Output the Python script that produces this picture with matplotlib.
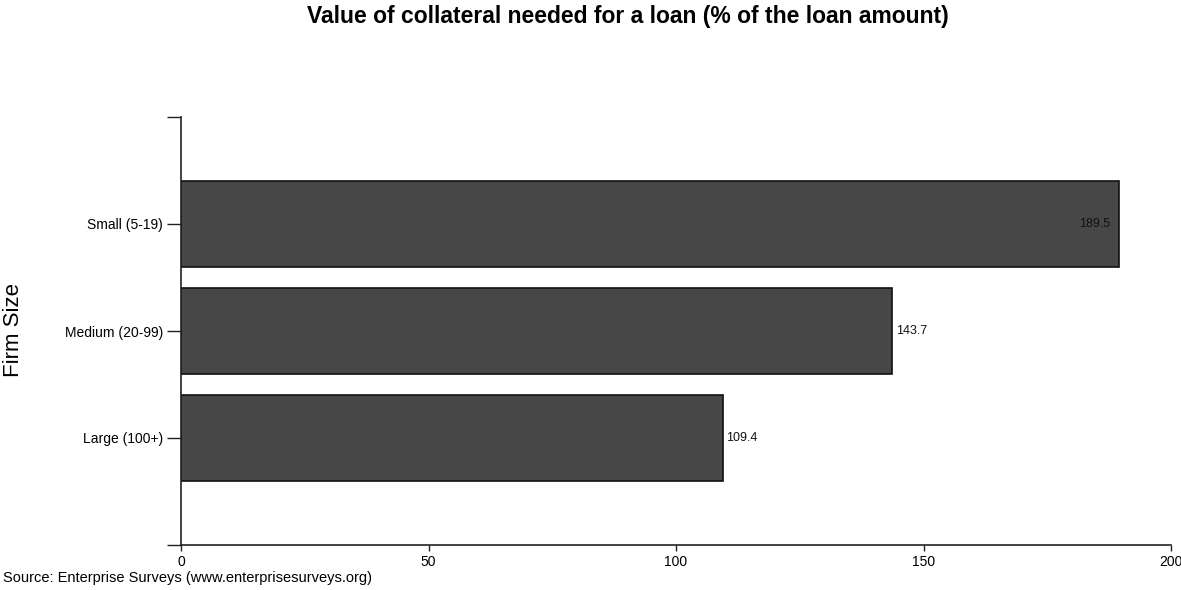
import matplotlib
matplotlib.use("Agg")
import matplotlib.pyplot as plt

plt.rcParams["font.family"] = ["Liberation Sans", "DejaVu Sans"]

categories = ["Small (5-19)", "Medium (20-99)", "Large (100+)"]
values = [189.5, 143.7, 109.4]
x_ticks = [0, 50, 100, 150, 200]

W, H = 1181, 590
fig = plt.figure(figsize=(W / 100, H / 100), dpi=100)
ax = fig.add_axes([181 / W, 1 - 545 / H, (1171 - 181) / W, (545 - 117) / H])

pos = list(range(len(categories)))
bars = ax.barh(pos, values, height=0.8, color="#474747", edgecolor="#111111", linewidth=1.2)

ax.set_xlim(0, 200)
ax.set_ylim(3, -1)
ax.set_xticks(x_ticks)
ax.set_xticklabels([str(t) for t in x_ticks], fontsize=10)
ax.set_yticks([-1] + pos + [3])
ax.set_yticklabels([""] + categories + [""], fontsize=10)
ax.tick_params(axis="y", length=10, width=1, color="#222222", pad=3)
ax.tick_params(axis="x", length=4, width=1, color="#222222", pad=3)

for s in ["top", "right"]:
    ax.spines[s].set_visible(False)
for s in ["left", "bottom"]:
    ax.spines[s].set_linewidth(1.2)
    ax.spines[s].set_color("#222222")

for b, v in zip(bars, values):
    y = b.get_y() + b.get_height() / 2
    if v > 180:
        ax.text(v - 1.8, y, f"{v:.1f}", ha="right", va="center", fontsize=9, color="#111111")
    else:
        ax.text(v + 0.8, y, f"{v:.1f}", ha="left", va="center", fontsize=9, color="#111111")

title = fig.text(307 / W, 1 - 16 / H, "Value of collateral needed for a loan (% of the loan amount)",
                 ha="left", va="center", fontsize=15, fontweight="bold")
fig.text(14 / W, 1 - 330 / H, "Firm Size", rotation=90, ha="center", va="center", fontsize=16)
source = fig.text(3 / W, 1 - 578 / H, "Source: Enterprise Surveys (www.enterprisesurveys.org)",
                  ha="left", va="center", fontsize=10)

# size the two long lines to the widths they take in the original
renderer = fig.canvas.get_renderer()
for t, target in [(title, 645), (source, 370)]:
    w = t.get_window_extent(renderer).width
    t.set_fontsize(t.get_fontsize() * target / w)

fig.savefig("out.png", dpi=100, facecolor="white")
